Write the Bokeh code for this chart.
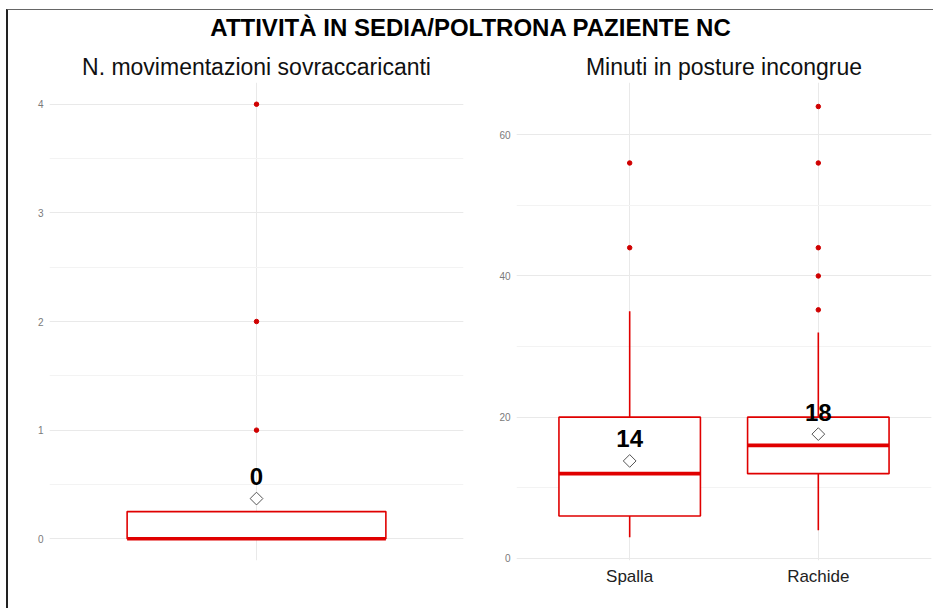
import math
from bokeh.plotting import figure
from bokeh.layouts import column, row
from bokeh.models import Range1d, FactorRange, SingleIntervalTicker
from bokeh.core.properties import value
from bokeh.embed import file_html
from bokeh.resources import INLINE

# ---------------- data ----------------
main_title = "ATTIVITÀ IN SEDIA/POLTRONA PAZIENTE NC"

left_title = "N. movimentazioni sovraccaricanti"
left_cats = [""]
left_q1 = [0.0]
left_median = [0.0]
left_q3 = [0.25]
left_low = [0.0]
left_high = [0.25]
left_mean = [0.37]
left_labels = ["0"]
left_out_cat = ["", "", ""]
left_out_val = [1, 2, 4]

right_title = "Minuti in posture incongrue"
right_cats = ["Spalla", "Rachide"]
right_q1 = [6, 12]
right_median = [12, 16]
right_q3 = [20, 20]
right_low = [3, 4]
right_high = [35, 32]
right_mean = [13.8, 17.6]
right_labels = ["14", "18"]
right_out_cat = ["Spalla", "Spalla", "Rachide", "Rachide", "Rachide", "Rachide", "Rachide"]
right_out_val = [44, 56, 35.2, 40, 44, 56, 64]

# ---------------- styles ----------------
FONT = "Liberation Sans"
RED = "#e00000"
PT_RED = "#d00000"
GRID = "#e9e9e9"
MINOR = "#f3f3f3"

LEFT_W = 462
RIGHT_W = 463
HEADER_H = 38
PANEL_H = 560


def make_panel(title, cats, q1, med, q3, lo, hi, mean, labels, out_c, out_v,
               yr, interval, width, mb_left, mb_right, show_xlabels):
    p = figure(width=width, height=PANEL_H,
               x_range=FactorRange(factors=cats, range_padding=0.1,
                                   range_padding_units="absolute"),
               y_range=yr, toolbar_location=None, output_backend="svg",
               min_border_left=mb_left, min_border_right=mb_right,
               min_border_top=32, min_border_bottom=48)
    p.title.text = title
    p.title.align = "center"
    p.title.text_font = FONT
    p.title.text_font_size = "23px"
    p.title.text_font_style = "normal"
    p.title.text_color = "#111111"
    p.title.standoff = 6
    p.outline_line_color = None
    p.background_fill_color = "white"
    p.border_fill_color = "white"

    p.yaxis.ticker = SingleIntervalTicker(interval=interval, num_minor_ticks=2)
    p.yaxis.axis_line_color = None
    p.yaxis.major_tick_line_color = None
    p.yaxis.minor_tick_line_color = None
    p.yaxis.major_tick_out = 0
    p.yaxis.minor_tick_out = 0
    p.yaxis.major_label_text_font = FONT
    p.yaxis.major_label_text_font_size = "10px"
    p.yaxis.major_label_text_color = "#7a7a7a"
    p.yaxis.major_label_standoff = 6

    p.xaxis.axis_line_color = None
    p.xaxis.major_tick_line_color = None
    p.xaxis.minor_tick_line_color = None
    p.xaxis.major_tick_out = 0
    p.xaxis.minor_tick_out = 0
    p.xaxis.major_label_text_font = FONT
    p.xaxis.major_label_text_font_size = "17px"
    p.xaxis.major_label_text_color = "#222222"
    p.xaxis.major_label_standoff = 6
    if not show_xlabels:
        p.xaxis.visible = False

    p.ygrid.grid_line_color = GRID
    p.ygrid.grid_line_width = 1
    p.ygrid.minor_grid_line_color = MINOR
    p.ygrid.minor_grid_line_width = 1
    p.xgrid.grid_line_color = GRID
    p.xgrid.grid_line_width = 1

    # whiskers
    p.segment(x0=cats, y0=q3, x1=cats, y1=hi, line_color=RED, line_width=1.6)
    p.segment(x0=cats, y0=q1, x1=cats, y1=lo, line_color=RED, line_width=1.6)
    # boxes
    p.vbar(x=cats, width=0.75, bottom=q1, top=q3, fill_color="white",
           line_color=RED, line_width=1.6)
    # medians
    p.rect(x=cats, y=med, width=0.75, height=3.6, height_units="screen",
           fill_color=RED, line_color=None)
    # outliers
    p.scatter(x=out_c, y=out_v, size=4.5, fill_color=PT_RED, line_color=PT_RED)
    # means
    p.scatter(x=cats, y=mean, marker="square", angle=math.pi / 4, size=9,
              fill_color="white", line_color="#555555", line_width=1)
    # mean labels
    p.text(x=cats, y=mean, text=labels, y_offset=-22,
           text_align="center", text_baseline="middle",
           text_font=value(FONT), text_font_size="24px",
           text_font_style="bold", text_color="#000000")
    return p


left = make_panel(left_title, left_cats, left_q1, left_median, left_q3,
                  left_low, left_high, left_mean, left_labels,
                  left_out_cat, left_out_val, Range1d(-0.2, 4.2), 1,
                  LEFT_W, 41, 7, False)
right = make_panel(right_title, right_cats, right_q1, right_median, right_q3,
                   right_low, right_high, right_mean, right_labels,
                   right_out_cat, right_out_val, Range1d(-0.3, 67.4), 20,
                   RIGHT_W, 46, 2, True)

header = figure(width=LEFT_W + RIGHT_W, height=HEADER_H, toolbar_location=None,
                output_backend="svg", x_range=Range1d(0, 1), y_range=Range1d(0, 1),
                min_border_top=30, min_border_bottom=0, min_border_left=0,
                min_border_right=0)
header.title.text = main_title
header.title.align = "center"
header.title.text_font = FONT
header.title.text_font_size = "24px"
header.title.text_font_style = "bold"
header.title.text_color = "#000000"
header.title.standoff = 0
header.axis.visible = False
header.grid.visible = False
header.outline_line_color = None

layout = column(header, row(left, right),
                styles={"margin-left": "6px", "margin-top": "9px",
                        "border-left": "2px solid #222222",
                        "border-top": "1px solid #666666"})

open("out.html", "w").write(file_html(layout, INLINE))
